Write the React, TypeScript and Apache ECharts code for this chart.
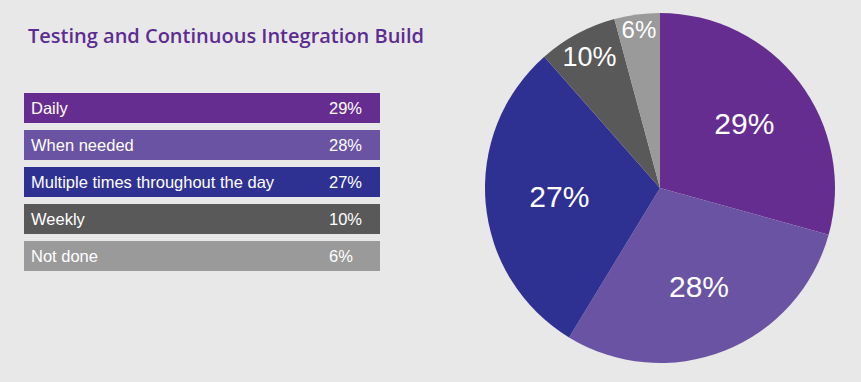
import React, { useEffect, useRef } from "react";
import * as echarts from "echarts";

// ---- data ----
const categories = ["Daily", "When needed", "Multiple times throughout the day", "Weekly", "Not done"];
// printed percentages (legend and slice labels)
const percentLabels = ["29%", "28%", "27%", "10%", "6%"];
// slice shares as drawn in the picture (measured angles, % of the full circle)
const sliceShares = [29.3, 29.4, 29.8, 7.3, 4.2];

// ---- styles ----
const colors = ["#662d91", "#6953a2", "#2e3192", "#595959", "#9a9a9a"];
const labelRadius = [103, 103, 98, 146, 157];
const labelFontSize = [30, 30, 30, 27, 24];
const FONT = "Liberation Sans, Arial, Helvetica, sans-serif";
const PIE_CENTER: [number, number] = [660, 188];
const PIE_R = 175;

export default function App() {
  const ref = useRef<HTMLDivElement>(null);
  useEffect(() => {
    if (!ref.current) return;
    const chart = echarts.init(ref.current, undefined, { renderer: "svg" });

    const rowTop = 93;
    const rowStep = 37;
    const rowH = 30;
    const legendGraphics: any[] = [];
    categories.forEach((name, i) => {
      const y = rowTop + i * rowStep;
      legendGraphics.push({
        type: "rect",
        shape: { x: 24, y, width: 356, height: rowH },
        style: { fill: colors[i] },
      });
      legendGraphics.push({
        type: "text",
        x: 31,
        y: y + rowH / 2,
        style: {
          text: name,
          fill: "#ffffff",
          fontSize: 16.5,
          fontFamily: FONT,
          verticalAlign: "middle",
          align: "left",
        },
      });
      legendGraphics.push({
        type: "text",
        x: 329,
        y: y + rowH / 2,
        style: {
          text: percentLabels[i],
          fill: "#ffffff",
          fontSize: 16.5,
          fontFamily: FONT,
          verticalAlign: "middle",
          align: "left",
        },
      });
    });

    const pieData = categories.map((name, i) => ({
      name,
      value: sliceShares[i],
      itemStyle: { color: colors[i] },
    }));

    const labelSeries = categories.map((_, idx) => ({
      type: "pie",
      silent: true,
      center: PIE_CENTER,
      radius: [labelRadius[idx] - 10, labelRadius[idx] + 10],
      startAngle: 90,
      clockwise: true,
      z: 5,
      itemStyle: { color: "rgba(0,0,0,0)" },
      emphasis: { disabled: true },
      labelLine: { show: false },
      data: categories.map((name, i) => ({
        name,
        value: sliceShares[i],
        label: {
          show: i === idx,
          position: "inside",
          formatter: percentLabels[i],
          color: "#ffffff",
          fontSize: labelFontSize[i],
          fontFamily: FONT,
          fontWeight: "normal",
        },
      })),
    }));

    chart.setOption({
      animation: false,
      backgroundColor: "#e8e8e8",
      title: {
        text: "Testing and Continuous Integration Build",
        left: 23,
        top: 20,
        textStyle: {
          color: "#5c2d91",
          fontSize: 20,
          fontWeight: 600,
          fontFamily: "Open Sans, sans-serif",
        },
      },
      graphic: legendGraphics,
      series: [
        {
          type: "pie",
          center: PIE_CENTER,
          radius: [0, PIE_R],
          startAngle: 90,
          clockwise: true,
          silent: true,
          label: { show: false },
          labelLine: { show: false },
          emphasis: { disabled: true },
          data: pieData,
        },
        ...labelSeries,
      ],
    });
    return () => chart.dispose();
  }, []);
  return (
    <div
      ref={ref}
      style={{ position: "fixed", left: 0, top: 0, width: 861, height: 382 }}
    />
  );
}
